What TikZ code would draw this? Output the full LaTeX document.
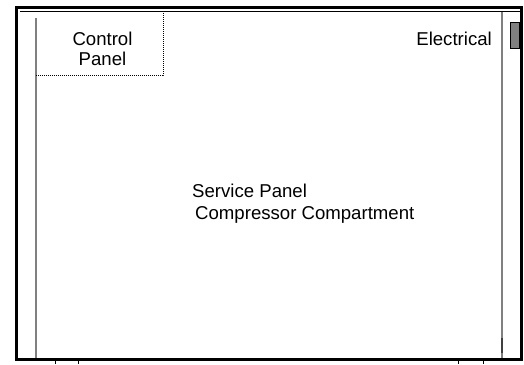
\documentclass[tikz,border=0pt]{standalone}
\usepackage{fontspec}
\setmainfont{Liberation Sans}
\usetikzlibrary{positioning}
\tikzset{
  frame/.style ={draw,line width=3bp},
  rim/.style   ={draw,line width=0.6bp},
  wall/.style  ={draw=black!50,line width=1.2bp},
  dots/.style  ={draw,dash pattern=on 1bp off 1bp,line width=0.9bp},
  tick/.style  ={draw,line width=0.8bp},
  lbl/.style   ={font=\fontsize{18.6bp}{20bp}\selectfont,inner sep=0pt},
}
\begin{document}
\begin{tikzpicture}[x=1bp,y=-1bp]
  \useasboundingbox (0,0) rectangle (524,364);
  % cabinet outline
  \draw[frame] (16,7.5) rectangle (521.5,359.5);
  \draw[rim] (20,11) -- (520,11);
  \draw[wall] (36,18) -- (36,358);
  \draw[wall] (502,12) -- (502,358);
  \draw[draw=black!75,line width=1.2bp] (502,338) -- (502,353);
  \draw[fill=black!50,line width=0.8bp] (510,22) rectangle (519,48);
  % control panel box
  \draw[dots] (163,13) -- (163,75) -- (36,75);
  % feet
  \foreach \x in {55,78,458,483}
    \draw[tick] (\x,361) -- (\x,364);
  % labels
  \node[lbl,align=center,anchor=base] (ctl) at (102.5,65) {Control\\Panel};
  \node[lbl,anchor=base east] (elec) at (492,45) {Electrical};
  \node[lbl,anchor=base west] (svc) at (192,197) {Service Panel};
  \node[lbl,anchor=base west] (comp) at (195,219) {Compressor Compartment};
\end{tikzpicture}
\end{document}
